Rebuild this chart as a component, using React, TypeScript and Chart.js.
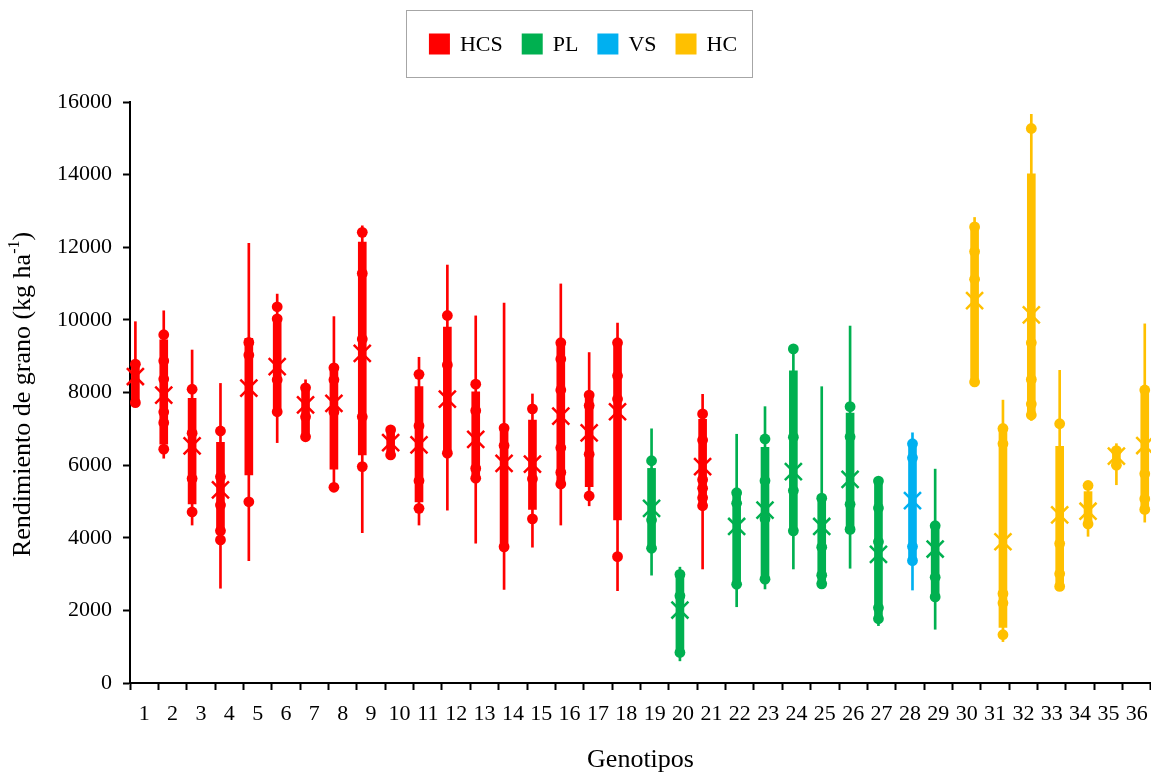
import React, { useEffect, useRef } from 'react';
import { Chart, registerables } from 'chart.js';

Chart.register(...registerables);

const FONT = "'Liberation Serif', 'Times New Roman', serif";

const genotypes = ['1','2','3','4','5','6','7','8','9','10','11','12','13','14','15','16','17','18','19','20','21','22','23','24','25','26','27','28','29','30','31','32','33','34','35','36'];
const groupNames = ['HCS', 'PL', 'VS', 'HC'];
const groupColors = ['#FF0000', '#00B050', '#00B0F0', '#FFC000'];
const groupOfGenotype = [0,0,0,0,0,0,0,0,0,0,0,0,0,0,0,0,0,0,1,1,0,1,1,1,1,1,1,2,1,3,3,3,3,3,3,3];

const whiskerLow = [7720, 6190, 4350, 2610, 3370, 6620, 6780, 5390, 4140, 6250, 4350, 4760, 3850, 2580, 3740, 4350, 4880, 2540, 2970, 610, 3140, 2100, 2590, 3140, 2730, 3160, 1580, 2560, 1480, 8290, 1140, 7230, 2660, 4040, 5460, 4430];
const whiskerHigh = [9950, 10250, 9170, 8250, 12110, 10710, 8350, 10090, 12590, 6970, 8970, 11510, 10110, 10460, 7960, 10990, 9100, 9910, 7000, 3190, 7950, 6850, 7610, 9200, 8160, 9830, 5600, 6890, 5890, 12820, 7790, 15660, 8610, 5440, 6590, 9890];
const quartileLow = [7800, 6580, 4930, 4130, 5730, 7470, 6780, 5890, 6280, 6280, 4990, 6330, 5640, 3750, 4780, 5480, 5410, 4490, 3710, 840, 4880, 2720, 2860, 4190, 2730, 4230, 1770, 3370, 2370, 8290, 1530, 7380, 2660, 4380, 6000, 4780];
const quartileHigh = [8780, 9450, 7840, 6630, 9490, 10100, 8130, 8600, 12140, 6970, 8160, 9800, 8020, 7020, 7240, 9370, 7930, 9370, 5910, 2990, 7260, 5240, 6490, 8600, 5090, 7430, 5560, 6590, 4330, 12560, 7010, 14020, 6520, 5270, 6400, 8070];
const means = [8440, 7930, 6530, 5320, 8120, 8710, 7660, 7700, 9080, 6620, 6560, 7820, 6710, 6050, 6030, 7350, 6890, 7470, 4810, 2010, 5960, 4310, 4760, 5820, 4310, 5610, 3540, 5020, 3690, 10530, 3890, 10140, 4630, 4730, 6250, 6540];
const observations = [
  [8780, 7720],
  [9590, 8870, 8370, 7460, 7170, 6440],
  [8090, 6880, 5630, 4710],
  [6940, 5680, 4900, 4190, 3940],
  [9380, 9030, 4990],
  [10360, 10030, 8350, 7470],
  [8130, 7330, 6780],
  [8680, 8350, 7460, 5390],
  [12410, 11280, 9470, 7330, 5960],
  [6970, 6280],
  [8500, 7080, 5570, 4810],
  [10120, 8760, 6330],
  [8230, 7500, 5910, 5640],
  [7020, 6540, 3750],
  [7550, 5620, 4520],
  [9370, 8920, 8070, 6480, 5800, 5480],
  [7930, 7640, 6300, 5150],
  [9370, 8460, 7820, 3480],
  [6120, 4490, 3710],
  [2990, 2400, 840],
  [7410, 6690, 5600, 5360, 5100, 4880],
  [5240, 4950, 2720],
  [6720, 5570, 4520, 2860],
  [9200, 6770, 5300, 4190],
  [5090, 3740, 2970, 2730],
  [7610, 6780, 4920, 4230],
  [5560, 4820, 3890, 2070, 1770],
  [6590, 6200, 3760, 3370],
  [4330, 2910, 2370],
  [12560, 11880, 11120, 8290],
  [7010, 6590, 2460, 2200, 1330],
  [15270, 9370, 8360, 7680, 7380],
  [7140, 3840, 3010, 2660],
  [5440, 4380],
  [6400, 6000],
  [8070, 5760, 5070, 4780],
];
const yTickValues = [0, 2000, 4000, 6000, 8000, 10000, 12000, 14000, 16000];

// horizontal slot of each group inside a category (fraction of category width)
const SLOT_OFFSET = [-0.31, -0.11, 0.09, 0.28];

function buildDatasets() {
  const datasets: any[] = [];
  groupNames.forEach((name, g) => {
    const color = groupColors[g];
    const idx = genotypes.map((_, i) => i).filter((i) => groupOfGenotype[i] === g);
    const xOf = (i: number) => i + 1 + SLOT_OFFSET[g];
    datasets.push({
      type: 'bar', label: name + ' rango', xAxisID: 'x', yAxisID: 'y',
      data: idx.map((i) => ({ x: xOf(i), y: [whiskerLow[i], whiskerHigh[i]] })),
      backgroundColor: color, borderWidth: 0, barThickness: 2, grouped: false, order: 4,
    });
    datasets.push({
      type: 'bar', label: name + ' cuartiles', xAxisID: 'x', yAxisID: 'y',
      data: idx.map((i) => ({ x: xOf(i), y: [quartileLow[i], quartileHigh[i]] })),
      backgroundColor: color, borderWidth: 0, barThickness: 8, grouped: false, order: 3,
    });
    const pts: any[] = [];
    idx.forEach((i) => observations[i].forEach((v) => pts.push({ x: xOf(i), y: v })));
    datasets.push({
      type: 'scatter', label: name + ' datos', xAxisID: 'x', yAxisID: 'y',
      data: pts, pointRadius: 5.4, pointBorderWidth: 0,
      pointBackgroundColor: color, pointBorderColor: color, showLine: false, order: 2, clip: false,
    });
    datasets.push({
      type: 'scatter', label: name + ' media', xAxisID: 'x', yAxisID: 'y',
      data: idx.map((i) => ({ x: xOf(i), y: means[i] })),
      pointStyle: 'crossRot', pointRadius: 12, pointBorderWidth: 2.5,
      pointBackgroundColor: color, pointBorderColor: color, showLine: false, order: 1, clip: false,
    });
  });
  return datasets;
}

const decorations = {
  id: 'decorations',
  afterDraw(chart: any) {
    const ctx = chart.ctx as CanvasRenderingContext2D;
    ctx.save();
    // legend
    ctx.font = `22px ${FONT}`;
    const sq = 21, gapText = 10, gapItem = 19;
    const widths = groupNames.map((n) => ctx.measureText(n).width);
    const total = widths.reduce((a, w) => a + sq + gapText + w, 0) + gapItem * (groupNames.length - 1);
    const cx = 583, cy = 44;
    let x = cx - total / 2;
    const left = Math.round(x - 23), right = Math.round(x + total + 15);
    ctx.strokeStyle = '#A6A6A6';
    ctx.lineWidth = 1;
    ctx.strokeRect(left + 0.5, 10.5, right - left, 67);
    ctx.textBaseline = 'middle';
    ctx.textAlign = 'left';
    groupNames.forEach((n, g) => {
      ctx.fillStyle = groupColors[g];
      ctx.fillRect(x, cy - sq / 2, sq, sq);
      x += sq + gapText;
      ctx.fillStyle = '#000';
      ctx.fillText(n, x, cy + 1);
      x += widths[g] + gapItem;
    });
    // y title with superscript
    const { top, bottom } = chart.chartArea;
    const main = 'Rendimiento de grano (kg ha';
    const sup = '-1';
    const close = ')';
    ctx.font = `26px ${FONT}`;
    const w1 = ctx.measureText(main).width;
    const w3 = ctx.measureText(close).width;
    ctx.font = `16px ${FONT}`;
    const w2 = ctx.measureText(sup).width;
    ctx.translate(23, (top + bottom) / 2 + 2);
    ctx.rotate(-Math.PI / 2);
    let tx = -(w1 + w2 + w3) / 2;
    ctx.fillStyle = '#000';
    ctx.textBaseline = 'middle';
    ctx.font = `26px ${FONT}`;
    ctx.fillText(main, tx, 0);
    tx += w1;
    ctx.font = `16px ${FONT}`;
    ctx.fillText(sup, tx, -8);
    tx += w2;
    ctx.font = `26px ${FONT}`;
    ctx.fillText(close, tx, 0);
    ctx.restore();
  },
};

export default function App() {
  const canvasRef = useRef<HTMLCanvasElement | null>(null);
  useEffect(() => {
    if (!canvasRef.current) return;
    const chart = new Chart(canvasRef.current, {
      type: 'bar',
      data: { datasets: buildDatasets() as any },
      options: {
        animation: false,
        responsive: false,
        events: [],
        layout: { autoPadding: false, padding: { top: 102, left: 0, right: 0, bottom: 0 } },
        plugins: { legend: { display: false }, tooltip: { enabled: false } },
        scales: {
          x: { type: 'linear', display: false, min: 0.5, max: 36.5, offset: false },
          xLab: {
            type: 'category', position: 'bottom', labels: genotypes, offset: true,
            grid: { offset: true, drawOnChartArea: false, drawTicks: true, tickLength: 7, tickColor: '#000', tickWidth: 2, color: '#000' },
            border: { display: true, color: '#000', width: 2 },
            ticks: { color: '#000', font: { family: FONT, size: 22 }, padding: 11, maxRotation: 0, autoSkip: false },
            title: { display: true, text: 'Genotipos', color: '#000', font: { family: FONT, size: 26, lineHeight: 1 }, padding: { top: 0, bottom: 0 } },
            afterFit: (s: any) => { s.height = 90; s.paddingLeft = 0; s.paddingRight = 0; },
          } as any,
          y: {
            type: 'linear', min: 0, max: 16000,
            afterBuildTicks: (s: any) => { s.ticks = yTickValues.map((v) => ({ value: v })); },
            grid: { drawOnChartArea: false, drawTicks: true, tickLength: 7, tickColor: '#000', tickWidth: 2, color: '#000' },
            border: { display: true, color: '#000', width: 2 },
            ticks: { color: '#000', font: { family: FONT, size: 22 }, padding: 11, callback: (v: any) => String(v) },
            afterFit: (s: any) => { s.width = 130; s.paddingTop = 0; s.paddingBottom = 0; },
          } as any,
        },
      },
      plugins: [decorations],
    });
    return () => chart.destroy();
  }, []);
  return (
    <div style={{ position: 'absolute', left: 0, top: 0, width: 1151, height: 773, background: '#fff' }}>
      <canvas ref={canvasRef} width={1151} height={773} style={{ display: 'block' }} />
    </div>
  );
}
